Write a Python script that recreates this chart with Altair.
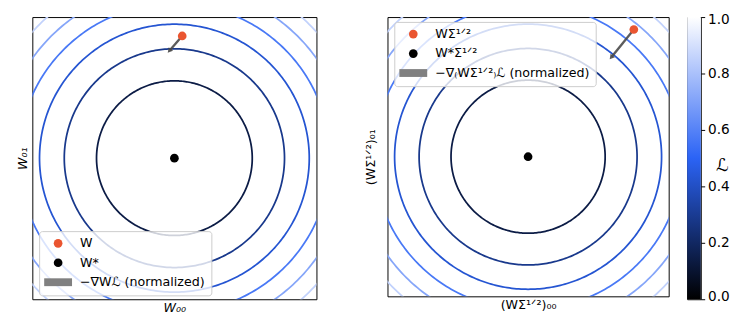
import altair as alt
import numpy as np
import pandas as pd

# ---------------- values ----------------
# contour levels of the loss (colorbar units), identical in both panels
levels = [0.143, 0.286, 0.429, 0.571, 0.714, 0.857]
loss_curvature = 0.476          # L = k * r^2  (r in axis units)

# left panel (original coordinates)
left_labels = ["W", "W*", "−∇Wℒ (normalized)"]
left_W = [0.055, 0.866]
left_Wstar = [0.0, 0.0]
left_head = [-0.032, 0.765]

# right panel (whitened coordinates)
right_labels = ["WΣ¹ᐟ²", "W*Σ¹ᐟ²", "−∇₍WΣ¹ᐟ²₎ℒ (normalized)"]
right_W = [0.752, 0.911]
right_Wstar = [0.0, 0.0]
right_head = [0.595, 0.716]

cbar_ticks = [0.0, 0.2, 0.4, 0.6, 0.8, 1.0]
cbar_range = [0.0, 1.0]

# ---------------- styling ----------------
ORANGE = "#ea5530"
ARROW = "#4a4a4a"
PATCH = "#808080"
CMAP_DOMAIN = [0.0, 0.5, 1.0]
CMAP_RANGE = ["#000000", "#2b63f5", "#ffffff"]
RECT_PATH = "M-3.2,-0.9L3.2,-0.9L3.2,0.9L-3.2,0.9Z"

# contour geometry from the levels
theta = np.linspace(0, 2 * np.pi, 361)
rows = []
for lv in levels:
    r = np.sqrt(lv / loss_curvature)
    for i, t in enumerate(theta):
        rows.append({"level": lv, "i": i, "x": r * np.cos(t), "y": r * np.sin(t)})
contour_df = pd.DataFrame(rows)


def panel(labels, W, Wstar, head, width, height, xtitle, ytitle, ypad, legx, legy, italic):
    xs = alt.Scale(domain=[-1, 1], nice=False, zero=False)
    ys = alt.Scale(domain=[-1, 1], nice=False, zero=False)
    style = "italic" if italic else "normal"
    xaxis = alt.Axis(title=xtitle, labels=False, ticks=False, domain=False, grid=False,
                     titleFontSize=13, titleFont="DejaVu Sans", titleFontWeight="normal",
                     titleColor="black", titlePadding=3, titleFontStyle=style)
    yaxis = alt.Axis(title=ytitle, labels=False, ticks=False, domain=False, grid=False,
                     titleFontSize=13, titleFont="DejaVu Sans", titleFontWeight="normal",
                     titleColor="black", titlePadding=ypad, titleFontStyle=style)

    contours = alt.Chart(contour_df).mark_line(clip=True, strokeWidth=1.8).encode(
        x=alt.X("x:Q", scale=xs, axis=xaxis),
        y=alt.Y("y:Q", scale=ys, axis=yaxis),
        detail="level:N",
        order="i:Q",
        stroke=alt.Stroke("level:Q", scale=alt.Scale(domain=CMAP_DOMAIN, range=CMAP_RANGE,
                                                     interpolate="rgb"),
                          legend=None),
    )

    dx = head[0] - W[0]
    dy = head[1] - W[1]
    ang = float(np.degrees(np.arctan2(dx, dy)) % 360)
    arrow_df = pd.DataFrame({"x0": [W[0]], "y0": [W[1]], "x1": [head[0]], "y1": [head[1]], "ang": [ang]})
    shaft = alt.Chart(arrow_df).mark_rule(color=ARROW, strokeWidth=2.4, opacity=0.9).encode(
        x="x0:Q", y="y0:Q", x2="x1:Q", y2="y1:Q")
    tip = alt.Chart(arrow_df).mark_point(shape="triangle", filled=True, size=34, color=ARROW, opacity=0.9).encode(
        x="x1:Q", y="y1:Q", angle=alt.Angle("ang:Q", scale=None))

    pts_df = pd.DataFrame({"x": [W[0], Wstar[0]], "y": [W[1], Wstar[1]], "item": [labels[0], labels[1]]})
    leg = alt.Legend(title=None, orient="none", legendX=legx, legendY=legy, padding=6,
                     fillColor="rgba(255,255,255,0.8)", strokeColor="#cccccc", cornerRadius=3,
                     labelFontSize=13, labelFont="DejaVu Sans", labelColor="black",
                     symbolOffset=7, labelOffset=16, symbolSize=80, rowPadding=5,
                     symbolOpacity=1, labelLimit=400)
    pts = alt.Chart(pts_df).mark_point(filled=True, size=80, opacity=1).encode(
        x="x:Q", y="y:Q",
        fill=alt.Fill("item:N", scale=alt.Scale(domain=labels, range=[ORANGE, "#000000", PATCH]), legend=leg),
        shape=alt.Shape("item:N", scale=alt.Scale(domain=labels, range=["circle", "circle", RECT_PATH]), legend=leg),
    )
    return alt.layer(contours, shaft, tip, pts).properties(width=width, height=height)


left = panel(left_labels, left_W, left_Wstar, left_head, 292, 290,
             "W₀₀", "W₀₁", 3, 7, 220, True)
right = panel(right_labels, right_W, right_Wstar, right_head, 289, 287,
              "(WΣ¹ᐟ²)₀₀", "(WΣ¹ᐟ²)₀₁", 10, 7, 5, False)

panels = (
    alt.hconcat(left, right, spacing=48)
    .resolve_scale(x="independent", y="independent", fill="independent", shape="independent")
    .resolve_legend(fill="independent", shape="independent")
)

# colorbar
cbar_df = pd.DataFrame({"lo": [cbar_range[0]], "hi": [cbar_range[1]]})
grad = alt.LinearGradient(
    gradient="linear",
    stops=[alt.GradientStop(color=c, offset=o) for c, o in zip(CMAP_RANGE, CMAP_DOMAIN)],
    x1=0, x2=0, y1=1, y2=0,
)
cbar = alt.Chart(cbar_df).mark_rect(fill=grad).encode(
    x=alt.value(0), x2=alt.value(14),
    y=alt.Y("lo:Q", scale=alt.Scale(domain=cbar_range, nice=False, zero=False),
            axis=alt.Axis(orient="right", values=cbar_ticks, format=".1f", tickSize=4,
                          tickColor="black", tickWidth=1, domain=False, grid=False,
                          labelFontSize=14, labelFont="DejaVu Sans", labelColor="black",
                          labelPadding=3, labelFlush=True, labelFlushOffset=4, labelOverlap=False,
                          title="ℒ", titleAngle=0, titleFontSize=18, titleFont="DejaVu Sans",
                          titleFontWeight="normal", titleColor="black", titleAlign="left",
                          titleBaseline="middle", titleX=15, titleY=153)),
    y2="hi:Q",
).properties(width=14, height=290)

chart = (
    alt.hconcat(panels, cbar, spacing=17)
    .properties(padding={"left": 8, "top": 0, "right": 0, "bottom": 0})
    .configure(font="DejaVu Sans")
    .configure_view(stroke="black", strokeWidth=1)
)

chart.save("out.html", embed_options={"renderer": "svg", "actions": False})
